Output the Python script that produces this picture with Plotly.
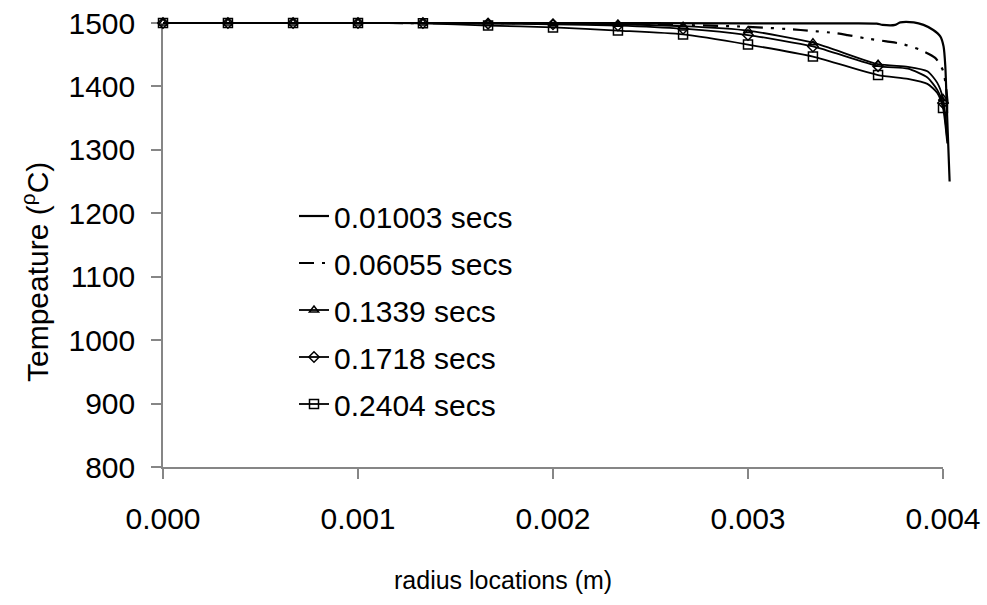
import plotly.graph_objects as go

# ---------------- data ----------------
series_names = ["0.01003 secs", "0.06055 secs", "0.1339 secs", "0.1718 secs", "0.2404 secs"]

# 0.01003 secs (solid, no markers)
r_a = [0.0, 0.001, 0.002, 0.003, 0.0035, 0.00366, 0.00369, 0.003755, 0.003781, 0.00385,
       0.0039, 0.00395, 0.003986, 0.004003, 0.004012, 0.00402, 0.004034]
t_a = [1500, 1500, 1500, 1499.5, 1499.5, 1499, 1497, 1497, 1501, 1501,
       1497, 1489, 1479, 1463, 1431, 1363, 1250]

# 0.06055 secs (dash-dot, no markers)
r_b = [0.0, 0.001, 0.002, 0.0025, 0.003, 0.00327, 0.00345, 0.00351, 0.0036, 0.00371,
       0.00379, 0.00388, 0.00396, 0.004, 0.004017, 0.004026]
t_b = [1500, 1500, 1499.5, 1498, 1494, 1489, 1484, 1481, 1476, 1471,
       1467, 1458, 1445, 1425, 1395, 1365]

# marker series share the same radius locations
r_m = [0.0, 0.000333, 0.000667, 0.001, 0.001333, 0.001667, 0.002, 0.002333, 0.002667,
       0.003, 0.003333, 0.003667, 0.00382, 0.00392, 0.00397, 0.004, 0.004022]
is_marker = [1, 1, 1, 1, 1, 1, 1, 1, 1, 1, 1, 1, 0, 0, 0, 1, 0]
t_c = [1500, 1500, 1500, 1500, 1500, 1499.5, 1499, 1498, 1495, 1488, 1469, 1435,
       1431, 1424, 1406, 1381, 1320]
t_d = [1500, 1500, 1500, 1500, 1500, 1499, 1498, 1496, 1491, 1481, 1463, 1432,
       1428, 1414, 1395, 1374, 1315]
t_e = [1500, 1500, 1500, 1500, 1499.5, 1496, 1493, 1488, 1482, 1466, 1447, 1418,
       1412, 1404, 1390, 1366, 1310]

x_tickvals = [0.0, 0.001, 0.002, 0.003, 0.004]
x_ticktext = ["0.000", "0.001", "0.002", "0.003", "0.004"]
y_tickvals = [800, 900, 1000, 1100, 1200, 1300, 1400, 1500]

# ---------------- figure ----------------
FONT = "Liberation Sans, Arial, sans-serif"
AX = "#868686"
fig = go.Figure()

# empty trace so that the displayed (x, y) axes get drawn
fig.add_trace(go.Scatter(x=[None], y=[None], mode="lines", showlegend=False,
                         hoverinfo="skip", xaxis="x", yaxis="y"))

fig.add_trace(go.Scatter(x=r_a, y=t_a, name=series_names[0], mode="lines",
                         line=dict(color="black", width=2.2, shape="spline", smoothing=0.7),
                         xaxis="x2", yaxis="y2", legendgroup="a"))
fig.add_trace(go.Scatter(x=r_b, y=t_b, name=series_names[1], mode="lines",
                         line=dict(color="black", width=2.2, dash="15px,8px,3px,8px,3px,8px",
                                   shape="spline", smoothing=0.7),
                         xaxis="x2", yaxis="y2", legendgroup="b"))

mcols = ["black" if m else "rgba(0,0,0,0)" for m in is_marker]
for name, ys, sym, sz, grp in [(series_names[2], t_c, "triangle-up-open", 8, "c"),
                               (series_names[3], t_d, "diamond-open", 8, "d"),
                               (series_names[4], t_e, "square-open", 9, "e")]:
    fig.add_trace(go.Scatter(x=r_m, y=ys, name=name, mode="lines+markers",
                             line=dict(color="black", width=1.8, shape="spline", smoothing=0.6),
                             marker=dict(symbol=sym, size=sz, color=mcols,
                                         line=dict(color=mcols, width=1.5)),
                             cliponaxis=False, xaxis="x2", yaxis="y2", legendgroup=grp))

L, R, T, B = 163, 34, 10, 138
W, H = 987, 605
pw = W - L - R
ph = H - T - B
xdom = 780 / pw
ydom = 444 / ph

fig.update_layout(
    template="none",
    width=W, height=H, autosize=False,
    margin=dict(l=L, r=R, t=T, b=B, pad=0, autoexpand=False),
    paper_bgcolor="white", plot_bgcolor="white",
    font=dict(family=FONT, size=30, color="black"),
    xaxis=dict(domain=[0, xdom], range=[0, 0.004], tickvals=x_tickvals, ticktext=x_ticktext,
               showline=True, linecolor=AX, linewidth=1.5, ticks="outside", ticklen=10,
               tickcolor=AX, tickwidth=1.5, showgrid=False, zeroline=False, automargin=False,
               ticklabelstandoff=14, anchor="y", fixedrange=True),
    yaxis=dict(domain=[0, ydom], range=[800, 1500], tickvals=y_tickvals,
               showline=True, linecolor=AX, linewidth=1.5, ticks="outside", ticklen=10,
               tickcolor=AX, tickwidth=1.5, showgrid=False, zeroline=False, automargin=False,
               ticklabelstandoff=10, anchor="x", fixedrange=True),
    xaxis2=dict(domain=[0, 1], range=[0, 0.004 / xdom], visible=False, anchor="y2",
                automargin=False, showgrid=False, zeroline=False),
    yaxis2=dict(domain=[0, 1], range=[800, 800 + 700 / ydom], visible=False, anchor="x2",
                automargin=False, showgrid=False, zeroline=False),
    showlegend=True,
    legend=dict(x=(294 - L) / pw, y=(H - B - 190) / ph, xanchor="left", yanchor="top",
                bgcolor="rgba(0,0,0,0)", borderwidth=0, font=dict(family=FONT, size=30),
                traceorder="grouped", tracegroupgap=5),
    annotations=[
        dict(text="radius locations (m)", xref="paper", yref="paper",
             x=(503 - L) / pw, y=(H - B - 580) / ph, xanchor="center", yanchor="middle",
             showarrow=False, font=dict(family=FONT, size=25)),
        dict(text="Tempeature (<sup>ρ</sup>C)", xref="paper", yref="paper",
             x=(35 - L) / pw, y=(H - B - 272) / ph, xanchor="center", yanchor="middle",
             textangle=-90, showarrow=False, font=dict(family=FONT, size=30)),
    ],
)

fig.write_html("out.html")
